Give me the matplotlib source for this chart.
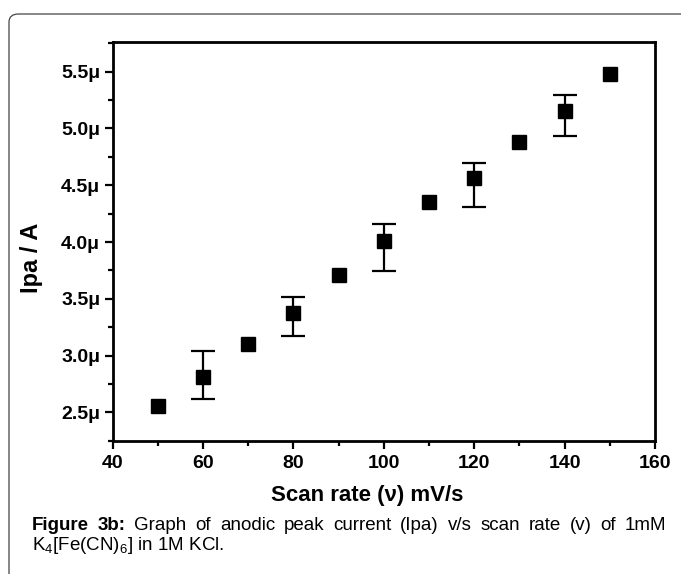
import numpy as np
import matplotlib
matplotlib.use('Agg')
import matplotlib.pyplot as plt
from matplotlib.patches import FancyBboxPatch
from matplotlib.ticker import MultipleLocator, FuncFormatter

#==============================================================================
# data (Ipa in microamps)
#==============================================================================

scan_rate = [50, 60, 70, 80, 90, 100, 110, 120, 130, 140, 150]
ipa       = [2.558, 2.808, 3.099, 3.372, 3.710, 4.012, 4.355, 4.562, 4.879, 5.157, 5.478]

err_rate  = [60, 80, 100, 120, 140]
err_low   = [0.191, 0.197, 0.267, 0.253, 0.223]
err_high  = [0.235, 0.141, 0.150, 0.134, 0.136]

xlabel  = 'Scan rate (\u03bd) mV/s'
ylabel  = 'Ipa / A'
caption1_bold = ['Figure', '3b:']
caption1 = 'Graph of anodic peak current (Ipa) v/s scan rate (v) of 1mM'
caption2 = r'K$_4$[Fe(CN)$_6$] in 1M KCl.'

#==============================================================================
# figure
#==============================================================================

plt.rcParams['font.family'] = ['Liberation Sans', 'DejaVu Sans']
plt.rcParams['mathtext.fontset'] = 'custom'
plt.rcParams['mathtext.rm'] = 'Liberation Sans'
plt.rcParams['mathtext.it'] = 'Liberation Sans:italic'

W, H = 681, 574
fig = plt.figure(figsize=(W / 100, H / 100), dpi=100)

# rounded frame around the figure (runs off right/bottom)
frame = FancyBboxPatch((9 / W, -0.2), 1.2, 1 - 14 / H + 0.2,
                       boxstyle='round,pad=0,rounding_size=0.014',
                       transform=fig.transFigure, fill=False,
                       edgecolor='#444444', linewidth=0.9)
fig.patches.append(frame)

ax = fig.add_axes([112.7 / W, 1 - 441 / H, (655 - 112.7) / W, (441 - 42) / H])

ys = [ipa[scan_rate.index(r)] for r in err_rate]
ax.errorbar(err_rate, ys, yerr=[err_low, err_high], fmt='none',
            ecolor='black', elinewidth=1.6, capsize=8.3, capthick=1.6, zorder=2)
ax.plot(scan_rate, ipa, 's', color='black', markersize=10.5, zorder=3)

ax.set_xlim(40, 160)
ax.set_ylim(2.247, 5.762)

ax.xaxis.set_major_locator(MultipleLocator(20))
ax.xaxis.set_minor_locator(MultipleLocator(10))
ax.yaxis.set_major_locator(MultipleLocator(0.5))
ax.yaxis.set_minor_locator(MultipleLocator(0.25))
ax.yaxis.set_major_formatter(FuncFormatter(lambda v, p: '%.1f\u03bc' % v))

for s in ax.spines.values():
  s.set_linewidth(2.0)
ax.tick_params(which='major', direction='out', length=6, width=1.6)
ax.tick_params(which='minor', direction='out', length=3.5, width=1.6)
ax.tick_params(axis='x', which='major', labelsize=14, pad=4)
ax.tick_params(axis='y', which='major', labelsize=14, pad=3)
for lbl in ax.get_xticklabels() + ax.get_yticklabels():
  lbl.set_fontweight('bold')

ax.set_xlabel(xlabel, fontsize=16, fontweight='bold')
ax.xaxis.set_label_coords(0.469, -0.11)
ax.set_ylabel(ylabel, fontsize=17, fontweight='bold')
ax.yaxis.set_label_coords(-0.1285, 0.459)

#==============================================================================
# caption (justified first line)
#==============================================================================

renderer = fig.canvas.get_renderer()
x0, x1 = 32 / W, 666 / W
y1 = 1 - 526 / H
y2 = 1 - 545 / H
words = [(w, 'bold') for w in caption1_bold] + [(w, 'normal') for w in caption1.split()]
texts = []
total = 0.0
for w, wt in words:
  t = fig.text(0, y1, w, fontsize=13.5, fontweight=wt, va='center', ha='left')
  bb = t.get_window_extent(renderer)
  texts.append((t, bb.width / W))
  total += bb.width / W
gap = (x1 - x0 - total) / (len(texts) - 1)
pos = x0
for t, wd in texts:
  t.set_x(pos)
  pos += wd + gap
fig.text(x0, y2, caption2, fontsize=13.5, va='center', ha='left')

fig.savefig('out.png', dpi=100)
